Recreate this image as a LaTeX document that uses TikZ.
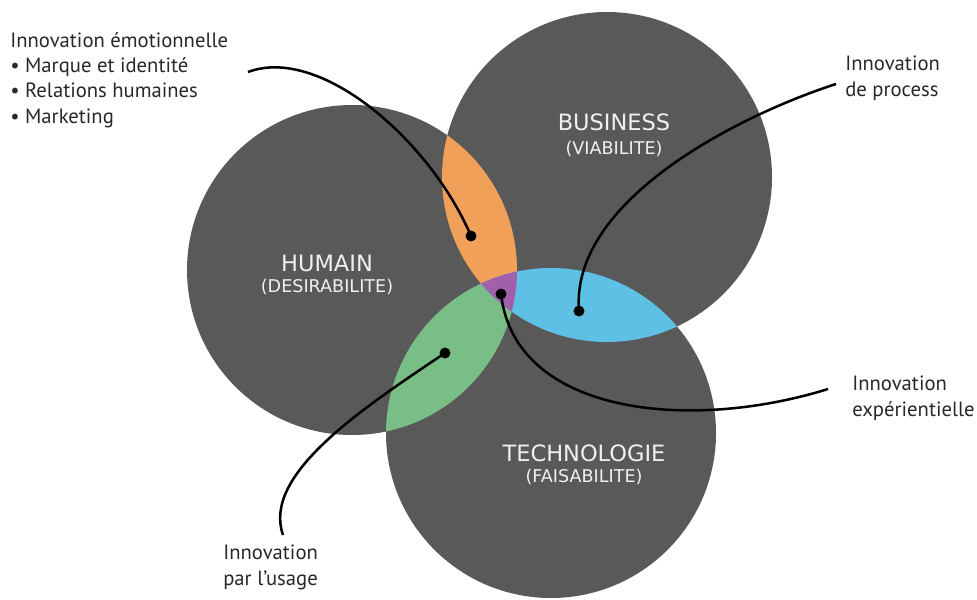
\documentclass[tikz,border=0pt]{standalone}
\usepackage{fontspec}
\setmainfont{PT Sans}
\newfontfamily\circfont{DejaVu Sans}

\definecolor{discgrey}{RGB}{89,89,89}
\definecolor{emoorange}{RGB}{240,160,88}
\definecolor{procblue}{RGB}{94,192,228}
\definecolor{usegreen}{RGB}{120,190,134}
\definecolor{exppurple}{RGB}{162,96,172}
\definecolor{notegrey}{RGB}{40,40,40}

\begin{document}
\begin{tikzpicture}[
    x=0.025cm, y=-0.025cm,
    dot/.style       = {circle, fill=black, inner sep=0pt, minimum size=7.8pt},
    link/.style      = {line width=1.8pt},
    title/.style     = {text=white!94!black, anchor=base, font=\circfont\fontsize{16}{18}\selectfont},
    subtitle/.style  = {text=white!94!black, anchor=base, font=\circfont\fontsize{12.5}{14}\selectfont},
    note/.style      = {text=notegrey, align=left, anchor=base west, inner sep=0pt,
                        font=\fontsize{14.7}{18}\selectfont}
    ]
      \useasboundingbox (0,0) rectangle (977,599);
      \def\rad{165}

      % circles --------------------------------------------------
      \coordinate (H) at (352,270);
      \coordinate (B) at (607,177);
      \coordinate (T) at (551,433);
      \fill[discgrey] (H) circle (\rad) (B) circle (\rad) (T) circle (\rad);
      \begin{scope}
        \clip (H) circle (\rad);
        \fill[emoorange] (B) circle (\rad);
        \fill[usegreen] (T) circle (\rad);
      \end{scope}
      \begin{scope}
        \clip (B) circle (\rad);
        \fill[procblue] (T) circle (\rad);
      \end{scope}
      \begin{scope}
        \clip (H) circle (\rad);
        \clip (B) circle (\rad);
        \fill[exppurple] (T) circle (\rad);
      \end{scope}

      % circle titles --------------------------------------------
      \node[title]    (hum)  at (327,271) {HUMAIN};
      \node[subtitle] (humS) at (327,292) {(DESIRABILITE)};
      \node[title]    (bus)  at (614,130) {BUSINESS};
      \node[subtitle] (busS) at (614,154) {(VIABILITE)};
      \node[title]    (tec)  at (584,461) {TECHNOLOGIE};
      \node[subtitle] (tecS) at (584,482) {(FAISABILITE)};

      % notes (placed by the baseline of their last line) --------
      \node[note] (nEmo)  at (10,123)  {Innovation émotionnelle\\
                                        \textbullet\ Marque et identité\\
                                        \textbullet\ Relations humaines\\
                                        \textbullet\ Marketing};
      \node[note] (nProc) at (845,96)  {Innovation\\de process};
      \node[note] (nExp)  at (852,416) {Innovation\\expérientielle};
      \node[note] (nUse)  at (223,585) {Innovation\\par l’usage};

      % dots and links -------------------------------------------
      \node[dot] (dEmo)  at (471,236) {};
      \node[dot] (dProc) at (579,311) {};
      \node[dot] (dExp)  at (501,294) {};
      \node[dot] (dUse)  at (445,353) {};
      \coordinate (eEmo)  at (248,72);
      \coordinate (eProc) at (836,84);
      \coordinate (eExp)  at (828,389);
      \coordinate (eUse)  at (283,535);
      \draw[link] (eEmo)  .. controls (320,45) and (430,140) .. (dEmo.center);
      \draw[link] (eProc) .. controls (740,115) and (570,200) .. (dProc.center);
      \draw[link] (dExp.center) .. controls (515,415) and (690,432) .. (eExp);
      \draw[link] (dUse.center) .. controls (360,410) and (262,475) .. (eUse);
\end{tikzpicture}
\end{document}
